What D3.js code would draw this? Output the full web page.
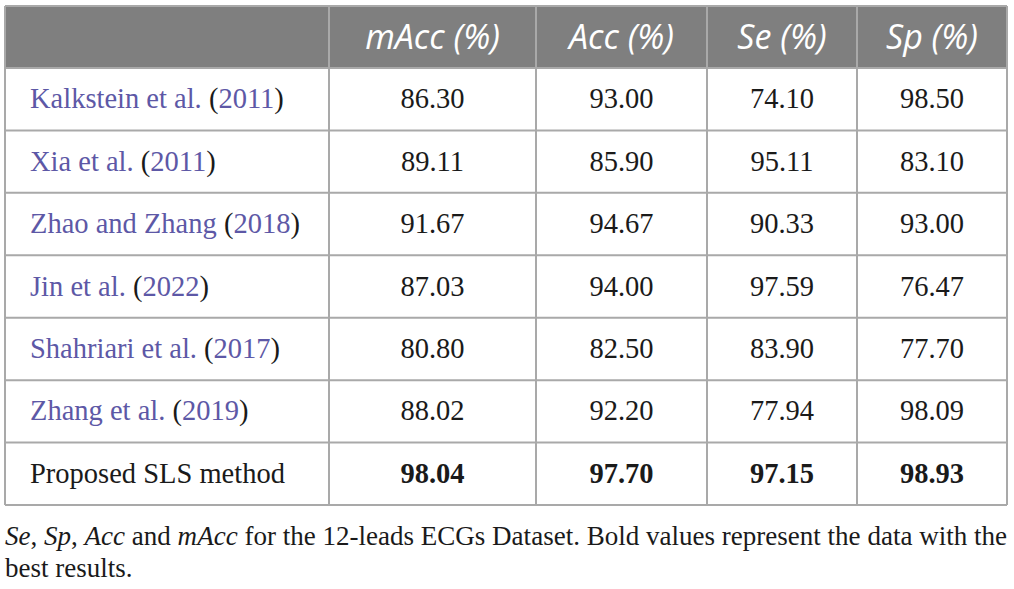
<!DOCTYPE html>
<html>
<head>
<meta charset="utf-8">
<script src="https://cdn.jsdelivr.net/npm/d3@7"></script>
<style>
  body { margin: 0; background: #fff; }
  svg { display: block; }
</style>
</head>
<body>
<svg width="1014" height="589"></svg>
<script>
// Table content
const headers = ["", "mAcc (%)", "Acc (%)", "Se (%)", "Sp (%)"];
const methods = ["Kalkstein et al.", "Xia et al.", "Zhao and Zhang", "Jin et al.", "Shahriari et al.", "Zhang et al.", "Proposed SLS method"];
const years = ["2011", "2011", "2018", "2022", "2017", "2019", null];
const mAcc = ["86.30", "89.11", "91.67", "87.03", "80.80", "88.02", "98.04"];
const acc = ["93.00", "85.90", "94.67", "94.00", "82.50", "92.20", "97.70"];
const se = ["74.10", "95.11", "90.33", "97.59", "83.90", "77.94", "97.15"];
const sp = ["98.50", "83.10", "93.00", "76.47", "77.70", "98.09", "98.93"];
const bestRow = 6;

// Layout
const tLeft = 5, tRight = 1007, tTop = 6, headH = 62, tBottom = 505;
const colEdges = [tLeft, 329, 536, 707, 857, tRight];
const linkColor = "#5d58a6";
const lineColor = "#a9a9a9";

const svg = d3.select("svg");

const colKeys = d3.range(headers.length);
const xStart = d3.scaleOrdinal().domain(colKeys).range(colEdges.slice(0, -1));
const xEnd = d3.scaleOrdinal().domain(colKeys).range(colEdges.slice(1));
const xMid = c => (xStart(c) + xEnd(c)) / 2;

const y = d3.scaleBand()
    .domain(d3.range(methods.length))
    .range([tTop + headH, tBottom]);

// Header background
svg.append("rect")
    .attr("x", tLeft).attr("y", tTop)
    .attr("width", tRight - tLeft).attr("height", headH)
    .attr("fill", "#7f7f7f");

// Header labels
svg.selectAll(".head")
    .data(colKeys.slice(1))
    .join("text")
    .attr("class", "head")
    .attr("x", c => xMid(c))
    .attr("y", 49)
    .attr("text-anchor", "middle")
    .attr("fill", "#fff")
    .style("font-family", "'Open Sans', sans-serif")
    .style("font-style", "italic")
    .style("font-size", "34px")
    .text(c => headers[c]);

// Grid lines
svg.selectAll(".hline")
    .data(d3.range(methods.length + 1))
    .join("line")
    .attr("class", "hline")
    .attr("x1", tLeft).attr("x2", tRight)
    .attr("y1", i => i === methods.length ? tBottom : y(i))
    .attr("y2", i => i === methods.length ? tBottom : y(i))
    .attr("stroke", lineColor).attr("stroke-width", 2);

svg.append("line")
    .attr("x1", tLeft).attr("x2", tRight)
    .attr("y1", tTop).attr("y2", tTop)
    .attr("stroke", lineColor).attr("stroke-width", 2);

svg.selectAll(".vline")
    .data(colEdges)
    .join("line")
    .attr("class", "vline")
    .attr("x1", d => d).attr("x2", d => d)
    .attr("y1", tTop).attr("y2", tBottom)
    .attr("stroke", lineColor).attr("stroke-width", 2);

// Method column
const body = "'Liberation Serif', 'Times New Roman', serif";
const meth = svg.selectAll(".method")
    .data(methods)
    .join("text")
    .attr("class", "method")
    .attr("x", 30)
    .attr("y", (d, i) => y(i) + y.bandwidth() / 2 + 9)
    .style("font-family", body)
    .style("font-size", "28.5px")
    .attr("fill", "#1a1a1a");

meth.each(function(d, i) {
    const t = d3.select(this);
    if (years[i] === null) {
        t.append("tspan").text(d);
        return;
    }
    t.append("tspan").attr("fill", linkColor).text(d + " ");
    t.append("tspan").text("(");
    t.append("tspan").attr("fill", linkColor).text(years[i]);
    t.append("tspan").text(")");
});

// Value columns
const columns = [mAcc, acc, se, sp];
columns.forEach((vals, ci) => {
    svg.selectAll(".val" + ci)
        .data(vals)
        .join("text")
        .attr("class", "val" + ci)
        .attr("x", xMid(ci + 1))
        .attr("y", (d, i) => y(i) + y.bandwidth() / 2 + 9)
        .attr("text-anchor", "middle")
        .style("font-family", body)
        .style("font-size", "28.5px")
        .style("font-weight", (d, i) => i === bestRow ? "bold" : "normal")
        .attr("fill", "#1a1a1a")
        .text(d => d);
});

// Caption
const caption = [
    [["Se", true], [", ", false], ["Sp", true], [", ", false], ["Acc", true], [" and ", false], ["mAcc", true],
     [" for the 12-leads ECGs Dataset. Bold values represent the data with the", false]],
    [["best results.", false]]
];
caption.forEach((parts, li) => {
    const t = svg.append("text")
        .attr("x", tLeft)
        .attr("y", 545 + li * 32)
        .style("font-family", body)
        .style("font-size", "27px")
        .attr("fill", "#1a1a1a");
    parts.forEach(p => {
        t.append("tspan")
            .style("font-style", p[1] ? "italic" : "normal")
            .text(p[0]);
    });
    if (li === 0) {
        t.attr("textLength", tRight - tLeft).attr("lengthAdjust", "spacingAndGlyphs");
    }
});
</script>
</body>
</html>
